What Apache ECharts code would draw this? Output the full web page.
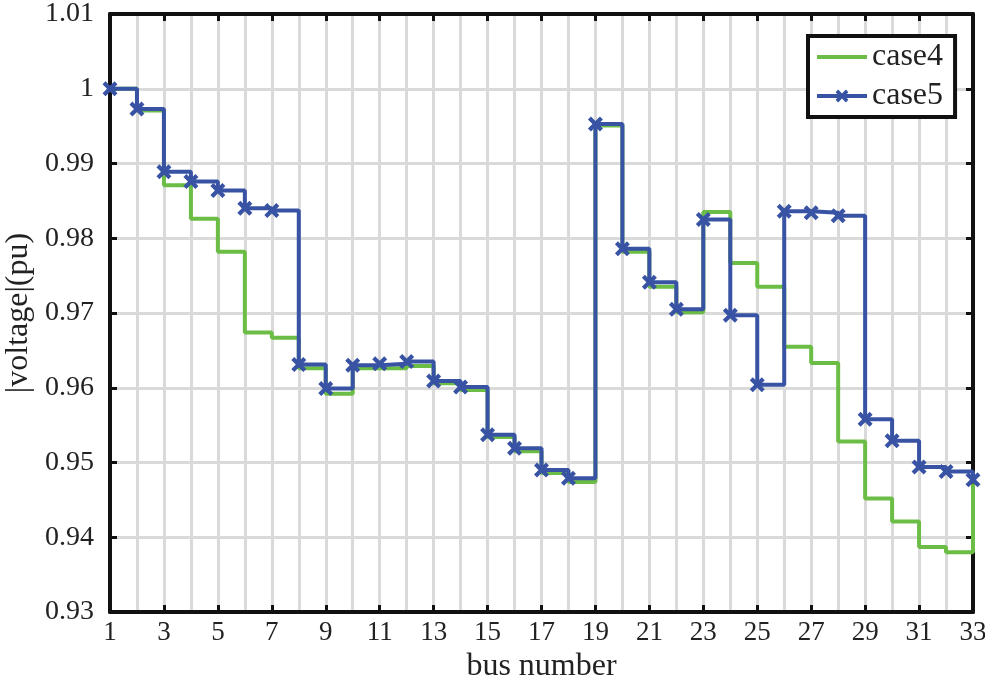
<!DOCTYPE html>
<html>
<head>
<meta charset="utf-8">
<script src="https://cdn.jsdelivr.net/npm/echarts@6/dist/echarts.min.js"></script>
<style>
  html, body { margin: 0; padding: 0; background: #fff; }
  #main { width: 985px; height: 686px; }
</style>
</head>
<body>
<div id="main"></div>
<script>
// bus numbers (categories on x)
var buses = ['1','2','3','4','5','6','7','8','9','10','11','12','13','14','15','16','17',
             '18','19','20','21','22','23','24','25','26','27','28','29','30','31','32','33'];

// |voltage| in pu
var case4 = [1.0000, 0.9971, 0.9871, 0.9826, 0.9782, 0.9674, 0.9667, 0.9626, 0.9592, 0.9626,
             0.9626, 0.9629, 0.9606, 0.9597, 0.9534, 0.9515, 0.9486, 0.9474, 0.9951, 0.9782,
             0.9735, 0.9701, 0.9835, 0.9767, 0.9735, 0.9655, 0.9633, 0.9528, 0.9452, 0.9421,
             0.9387, 0.9380, 0.9472];
var case5 = [1.0000, 0.9973, 0.9889, 0.9876, 0.9864, 0.9840, 0.9837, 0.9631, 0.9599, 0.9630,
             0.9632, 0.9635, 0.9609, 0.9601, 0.9537, 0.9519, 0.9490, 0.9479, 0.9953, 0.9786,
             0.9741, 0.9705, 0.9825, 0.9697, 0.9604, 0.9836, 0.9834, 0.9830, 0.9558, 0.9529,
             0.9494, 0.9488, 0.9477];

var yMin = 0.93, yMax = 1.01, yStep = 0.01;

var FONT = 'Liberation Serif';
var green = '#6bbd46';
var blue = '#3953a4';
// bold "x" marker
var crossPath = 'path://M0,4 L4,0 L10,6 L16,0 L20,4 L14,10 L20,16 L16,20 L10,14 L4,20 L0,16 L6,10 Z';
// plain line icon for case4 in the legend
var lineIcon = 'path://M0,0 L50,0 L50,4 L0,4 Z';

var myChart = echarts.init(document.getElementById('main'));

var frameLine = { show: true, onZero: false, lineStyle: { color: '#111', width: 4 } };
var inTick = { show: true, inside: true, length: 7, lineStyle: { color: '#111', width: 3 } };

var option = {
    animation: false,
    backgroundColor: '#fff',
    grid: { left: 110, right: 12, top: 14, bottom: 74, outerBoundsMode: 'none', containLabel: false },
    legend: {
        orient: 'vertical',
        left: 808,
        top: 36,
        padding: [5, 12, 5, 7],
        itemGap: 7,
        itemWidth: 50,
        itemHeight: 16,
        borderColor: '#111',
        borderWidth: 4,
        backgroundColor: '#fff',
        lineStyle: { width: 4 },
        textStyle: { fontFamily: FONT, fontSize: 32, color: '#222' },
        data: [{ name: 'case4', icon: lineIcon }, { name: 'case5' }]
    },
    xAxis: [{
        type: 'category',
        data: buses,
        boundaryGap: false,
        position: 'bottom',
        name: 'bus number',
        nameLocation: 'middle',
        nameGap: 38,
        nameTextStyle: { fontFamily: FONT, fontSize: 32, color: '#222' },
        axisLine: frameLine,
        axisTick: Object.assign({ interval: 1 }, inTick),
        axisLabel: { interval: 1, margin: 7, fontFamily: FONT, fontSize: 27, color: '#222' },
        splitLine: { show: true, interval: 0, lineStyle: { color: '#dadada', width: 3 } }
    }, {
        type: 'category',
        data: buses,
        boundaryGap: false,
        position: 'top',
        axisLine: frameLine,
        axisTick: Object.assign({ interval: 1 }, inTick),
        axisLabel: { show: false },
        splitLine: { show: false }
    }],
    yAxis: [{
        type: 'value',
        min: yMin,
        max: yMax,
        interval: yStep,
        position: 'left',
        name: '|voltage|(pu)',
        nameLocation: 'middle',
        nameGap: 67,
        nameTextStyle: { fontFamily: FONT, fontSize: 32, color: '#222' },
        axisLine: frameLine,
        axisTick: inTick,
        axisLabel: {
            margin: 16, fontFamily: FONT, fontSize: 28, color: '#222',
            formatter: function (v) { return String(+v.toFixed(2)); }
        },
        splitLine: { show: true, lineStyle: { color: '#dadada', width: 3 } }
    }, {
        type: 'value',
        min: yMin,
        max: yMax,
        interval: yStep,
        position: 'right',
        axisLine: frameLine,
        axisTick: inTick,
        axisLabel: { show: false },
        splitLine: { show: false }
    }],
    series: [{
        name: 'case4',
        type: 'line',
        step: 'end',
        xAxisIndex: 0,
        yAxisIndex: 0,
        symbol: 'none',
        lineStyle: { color: green, width: 4 },
        itemStyle: { color: green },
        data: case4
    }, {
        name: 'case5',
        type: 'line',
        step: 'end',
        xAxisIndex: 0,
        yAxisIndex: 0,
        symbol: crossPath,
        symbolSize: 15,
        showAllSymbol: true,
        lineStyle: { color: blue, width: 4 },
        itemStyle: { color: blue },
        data: case5
    }]
};

myChart.setOption(option);
</script>
</body>
</html>
